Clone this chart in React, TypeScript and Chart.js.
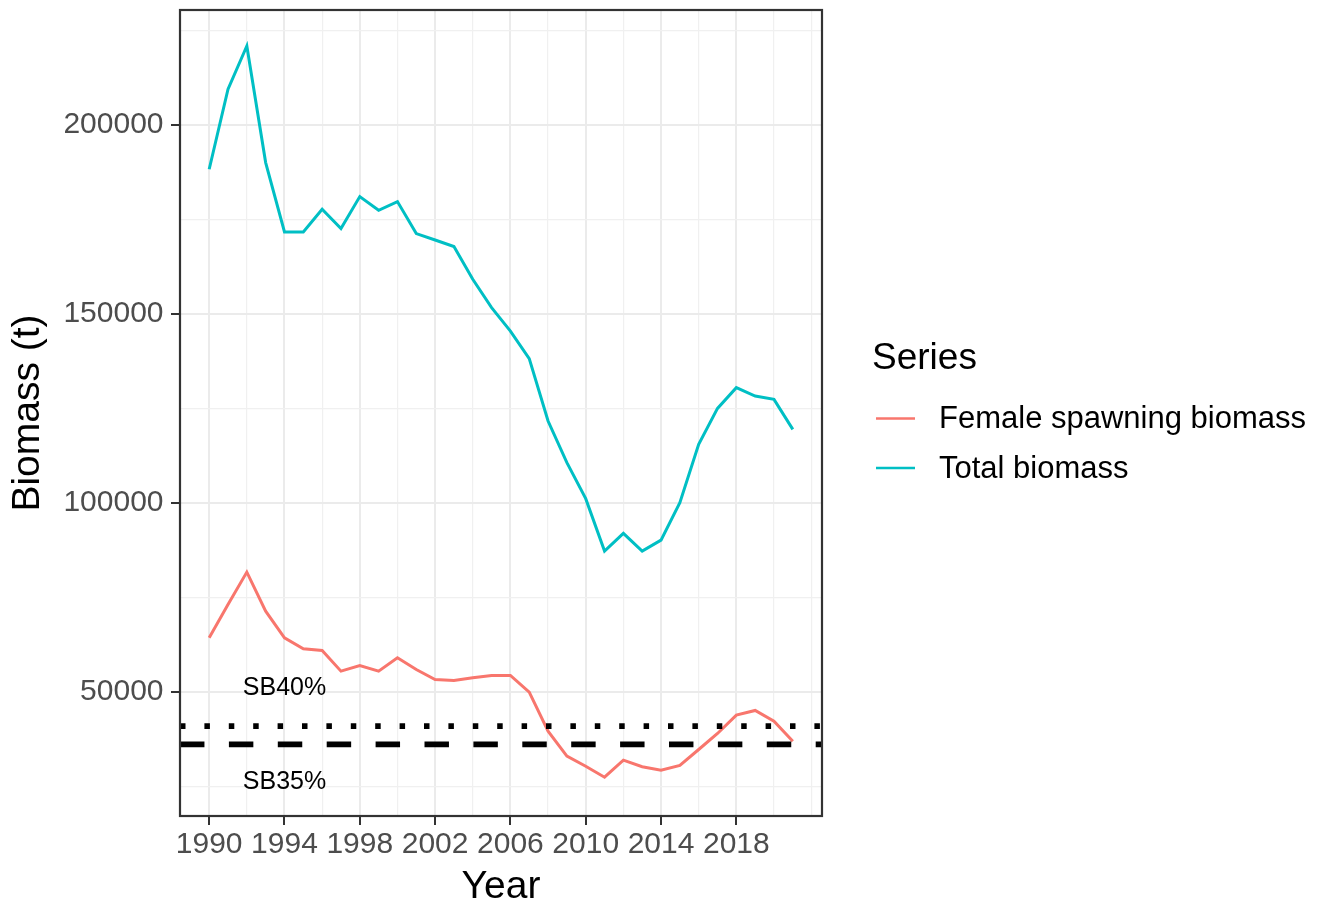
import React, { useEffect, useRef } from 'react';
import { Chart, registerables } from 'chart.js';

Chart.register(...registerables);

const years = [
  1990, 1991, 1992, 1993, 1994, 1995, 1996, 1997, 1998, 1999, 2000, 2001, 2002, 2003, 2004, 2005,
  2006, 2007, 2008, 2009, 2010, 2011, 2012, 2013, 2014, 2015, 2016, 2017, 2018, 2019, 2020, 2021,
];

const femaleSpawningBiomass = [
  64390, 73200, 81750, 71430, 64390, 61480, 61030, 55560, 57060, 55560, 59100, 56000, 53360, 53100, 53810, 54420,
  54420, 50000, 39680, 33070, 30420, 27510, 32010, 30270, 29370, 30610, 34840, 39070, 43920, 45160, 42330, 37040,
];

const totalBiomass = [
  188280, 209444, 220900, 190053, 171694, 171694, 177700, 172593, 181058, 177434, 179735, 171270, 169577, 167830, 159180, 151694,
  145500, 138200, 121700, 110690, 101170, 87300, 91980, 87300, 90210, 100110, 115530, 125050, 130530, 128310, 127440, 119500,
];

const seriesNames = ['Female spawning biomass', 'Total biomass'];
const seriesColors = ['#F8766D', '#00BFC4'];

const sb40 = 41000;
const sb35 = 36200;
const refLabels = ['SB40%', 'SB35%'];
const refLabelYear = 1994;
const refLabelOffset = 10000;

const xTickValues = [1990, 1992, 1994, 1996, 1998, 2000, 2002, 2004, 2006, 2008, 2010, 2012, 2014, 2016, 2018, 2020, 2022];
const xLabelValues = [1990, 1994, 1998, 2002, 2006, 2010, 2014, 2018];
const yTickValues = [25000, 50000, 75000, 100000, 125000, 150000, 175000, 200000, 225000];
const yLabelValues = [50000, 100000, 150000, 200000];

const xMin = 1988.45;
const xMax = 2022.55;
const yMin = 17250;
const yMax = 230400;

const FONT = '"Liberation Sans", Arial, Helvetica, sans-serif';

const overlayPlugin = {
  id: 'overlay',
  afterDatasetsDraw(chart: any) {
    const { ctx, chartArea: a, scales } = chart;
    const xs = scales.x;
    const ys = scales.y;
    ctx.save();
    ctx.beginPath();
    ctx.rect(a.left, a.top, a.right - a.left, a.bottom - a.top);
    ctx.clip();
    ctx.strokeStyle = '#000000';
    ctx.lineCap = 'butt';
    ctx.lineWidth = 5.8;
    ctx.setLineDash([5.5, 18.9]);
    const y40 = ys.getPixelForValue(sb40);
    ctx.beginPath();
    ctx.moveTo(a.left, y40);
    ctx.lineTo(a.right, y40);
    ctx.stroke();
    ctx.setLineDash([24.45, 24.45]);
    const y35 = ys.getPixelForValue(sb35);
    ctx.beginPath();
    ctx.moveTo(a.left, y35);
    ctx.lineTo(a.right, y35);
    ctx.stroke();
    ctx.restore();

    ctx.save();
    ctx.fillStyle = '#000000';
    ctx.font = `25px ${FONT}`;
    ctx.textAlign = 'center';
    ctx.textBaseline = 'middle';
    const lx = xs.getPixelForValue(refLabelYear);
    ctx.fillText(refLabels[0], lx, ys.getPixelForValue(sb40 + refLabelOffset));
    ctx.fillText(refLabels[1], lx, ys.getPixelForValue(sb35 - refLabelOffset));
    ctx.restore();
  },
  afterDraw(chart: any) {
    const { ctx, chartArea: a } = chart;
    ctx.save();
    ctx.strokeStyle = '#333333';
    ctx.lineWidth = 2.2;
    ctx.setLineDash([]);
    ctx.strokeRect(a.left, a.top, a.right - a.left, a.bottom - a.top);

    const midY = (a.top + a.bottom) / 2;
    const lx = a.right + 50;
    ctx.fillStyle = '#000000';
    ctx.textAlign = 'left';
    ctx.textBaseline = 'middle';
    ctx.font = `37px ${FONT}`;
    ctx.fillText('Series', lx, midY - 54);
    ctx.font = `31px ${FONT}`;
    chart.data.datasets.forEach((ds: any, i: number) => {
      const iy = midY + 5.5 + i * 49.5;
      ctx.strokeStyle = ds.borderColor;
      ctx.lineWidth = 2.5;
      ctx.beginPath();
      ctx.moveTo(lx + 4, iy);
      ctx.lineTo(lx + 43, iy);
      ctx.stroke();
      ctx.fillText(ds.label, lx + 67, iy + 1);
    });
    ctx.restore();
  },
};

export default function App() {
  const canvasRef = useRef<HTMLCanvasElement | null>(null);

  useEffect(() => {
    if (!canvasRef.current) return;
    const chart = new Chart(canvasRef.current, {
      type: 'line',
      data: {
        datasets: [
          {
            label: seriesNames[0],
            data: years.map((yr, i) => ({ x: yr, y: femaleSpawningBiomass[i] })),
            borderColor: seriesColors[0],
            backgroundColor: seriesColors[0],
            borderWidth: 3,
            pointRadius: 0,
            tension: 0,
          },
          {
            label: seriesNames[1],
            data: years.map((yr, i) => ({ x: yr, y: totalBiomass[i] })),
            borderColor: seriesColors[1],
            backgroundColor: seriesColors[1],
            borderWidth: 3,
            pointRadius: 0,
            tension: 0,
          },
        ],
      },
      options: {
        animation: false,
        responsive: false,
        devicePixelRatio: 1,
        layout: { padding: { top: 10, right: 505, left: 0, bottom: 0 } },
        plugins: {
          legend: { display: false },
          tooltip: { enabled: false },
        },
        scales: {
          x: {
            type: 'linear',
            min: xMin,
            max: xMax,
            afterBuildTicks: (scale: any) => {
              scale.ticks = xTickValues.map((v) => ({ value: v }));
            },
            afterFit: (scale: any) => {
              scale.height = 89;
              scale.paddingLeft = 0;
              scale.paddingRight = 0;
            },
            ticks: {
              autoSkip: false,
              maxRotation: 0,
              minRotation: 0,
              padding: 1.7,
              color: '#4D4D4D',
              font: { family: FONT, size: 30 },
              callback: (v: any) => (xLabelValues.includes(Number(v)) ? String(v) : ''),
            },
            grid: {
              color: (c: any) => (xLabelValues.includes(c.tick?.value) ? '#EBEBEB' : '#F0F0F0'),
              lineWidth: (c: any) => (xLabelValues.includes(c.tick?.value) ? 2 : 1.2),
              drawTicks: true,
              tickLength: 9,
              tickColor: (c: any) => (xLabelValues.includes(c.tick?.value) ? '#333333' : 'rgba(0,0,0,0)'),
              tickWidth: 2,
            },
            border: { display: false },
            title: {
              display: true,
              text: 'Year',
              color: '#000000',
              font: { family: FONT, size: 39, lineHeight: 0.9 },
              padding: { top: 0, bottom: 0 },
            },
          },
          y: {
            type: 'linear',
            min: yMin,
            max: yMax,
            afterBuildTicks: (scale: any) => {
              scale.ticks = yTickValues.map((v) => ({ value: v }));
            },
            afterFit: (scale: any) => {
              scale.width = 180;
              scale.paddingTop = 0;
              scale.paddingBottom = 0;
            },
            ticks: {
              autoSkip: false,
              padding: 7.5,
              color: '#4D4D4D',
              font: { family: FONT, size: 30 },
              callback: (v: any) => (yLabelValues.includes(Number(v)) ? String(v) : ''),
            },
            grid: {
              color: (c: any) => (yLabelValues.includes(c.tick?.value) ? '#EBEBEB' : '#F0F0F0'),
              lineWidth: (c: any) => (yLabelValues.includes(c.tick?.value) ? 2 : 1.2),
              drawTicks: true,
              tickLength: 9,
              tickColor: (c: any) => (yLabelValues.includes(c.tick?.value) ? '#333333' : 'rgba(0,0,0,0)'),
              tickWidth: 2,
            },
            border: { display: false },
            title: {
              display: true,
              text: 'Biomass (t)',
              color: '#000000',
              font: { family: FONT, size: 39, lineHeight: 1 },
              padding: { top: 9, bottom: 0 },
            },
          },
        },
      },
      plugins: [overlayPlugin],
    } as any);
    return () => chart.destroy();
  }, []);

  return (
    <div style={{ position: 'fixed', left: 0, top: 0, width: 1327, height: 905, background: '#ffffff' }}>
      <canvas ref={canvasRef} width={1327} height={905} style={{ display: 'block', width: 1327, height: 905 }} />
    </div>
  );
}
